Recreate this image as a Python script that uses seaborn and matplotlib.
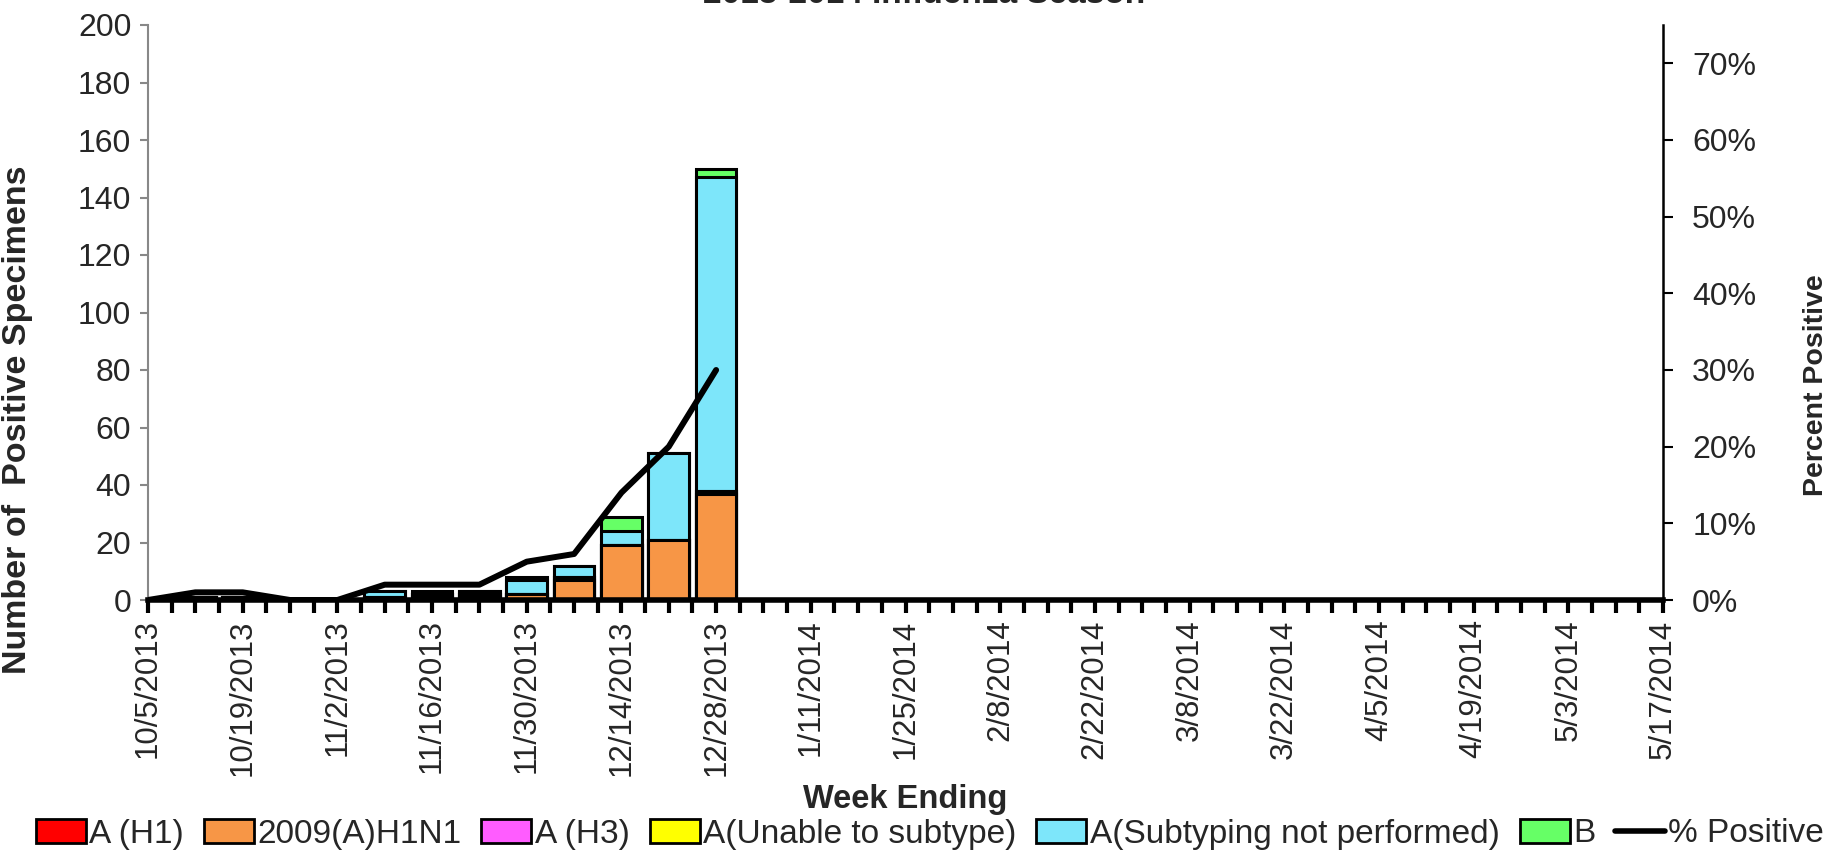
import matplotlib
matplotlib.use("Agg")
import matplotlib.pyplot as plt
import seaborn as sns
import numpy as np
import pandas as pd
from matplotlib.patches import Patch
from matplotlib.lines import Line2D
from matplotlib.ticker import PercentFormatter, MultipleLocator

# ---- data ----
weeks = pd.date_range("2013-10-05", "2014-05-17", freq="7D")
week_labels = [f"{d.month}/{d.day}/{d.year}" for d in weeks]
n = len(weeks)

def pad(vals):
    return list(vals) + [0] * (n - len(vals))

a_h1      = pad([0, 0, 0, 0, 0, 0, 0, 0, 0, 0, 0, 0, 0])
h1n1_2009 = pad([0, 1, 1, 0, 0, 0, 1, 1, 2, 7, 19, 21, 37])
a_h3      = pad([0, 0, 0, 0, 0, 1, 1, 1, 0, 1, 0, 0, 1])
a_unable  = pad([0, 0, 0, 0, 0, 0, 0, 0, 0, 0, 0, 0, 0])
a_notsub  = pad([0, 0, 0, 0, 0, 2, 0, 1, 5, 4, 5, 30, 109])
b_vals    = pad([0, 0, 0, 0, 0, 0, 1, 0, 1, 0, 5, 0, 3])
pct_pos   = [0.0, 0.01, 0.01, 0.0, 0.0, 0.02, 0.02, 0.02, 0.05, 0.06, 0.14, 0.20, 0.30] + [np.nan] * (n - 13)

series_names = ["A (H1)", "2009(A)H1N1", "A (H3)", "A(Unable to subtype)",
                "A(Subtyping not performed)", "B"]
series_vals = [a_h1, h1n1_2009, a_h3, a_unable, a_notsub, b_vals]
colors = ["#FF0000", "#F79646", "#FF5CFF", "#FFFF00", "#7DE6FA", "#66FF66"]

# ---- style ----
sns.set_theme(style="white")
plt.rcParams["font.family"] = ["Liberation Sans", "DejaVu Sans"]

W, H = 1839, 851
fig = plt.figure(figsize=(W / 100, H / 100), dpi=100)
ax = fig.add_axes([148/W, 1 - 600/H, (1663-148)/W, (600-25)/H])

cum = np.zeros(n)
cums = []
for v in series_vals:
    cum = cum + np.array(v, dtype=float)
    cums.append(cum.copy())

# overlay cumulative bars: draw from top layer down
for name, c, col in reversed(list(zip(series_names, cums, colors))):
    d = pd.DataFrame({"week": week_labels, "val": c})
    sns.barplot(data=d, x="week", y="val", order=week_labels, color=col,
                saturation=1, width=0.86, edgecolor="black", linewidth=2.2, ax=ax)

ax.set_xlim(0, n - 1)
ax.set_ylim(0, 200)
ax.yaxis.set_major_locator(MultipleLocator(20))
ax.set_xticks(range(n))
ax.set_xticklabels([lab if i % 2 == 0 else "" for i, lab in enumerate(week_labels)],
                   rotation=90, fontsize=22.5)
ax.set_xticks(np.arange(0.5, n - 1, 1.0), minor=True)
ax.tick_params(axis="x", which="both", direction="out", length=9, width=3,
               color="black", bottom=True, pad=5)
ax.tick_params(axis="y", direction="out", length=6, width=1.5, color="#888888",
               left=True, labelsize=23, pad=6)
for s in ["top", "right"]:
    ax.spines[s].set_visible(False)
ax.spines["left"].set_color("#888888")
ax.spines["left"].set_linewidth(1.5)
ax.spines["bottom"].set_color("black")
ax.spines["bottom"].set_linewidth(4)
ax.set_xlabel("Week Ending", fontsize=23.5, fontweight="bold", labelpad=6)
ax.set_ylabel("Number of  Positive Specimens", fontsize=24.5, fontweight="bold")
ax.yaxis.set_label_coords(33/W, 1 - 420/H, transform=fig.transFigure)

# ---- percent positive line ----
ax2 = ax.twinx()
ldf = pd.DataFrame({"x": np.arange(n), "pct": pct_pos})
sns.lineplot(data=ldf, x="x", y="pct", color="black", linewidth=4.3, ax=ax2)
ax2.set_ylim(0, 0.75)
ax2.set_xlim(0, n - 1)
ax2.yaxis.set_major_locator(MultipleLocator(0.1))
ax2.yaxis.set_major_formatter(PercentFormatter(1.0, decimals=0))
ax2.tick_params(axis="y", direction="out", length=7, width=1.5, color="black",
                right=True, labelsize=23, pad=14)
for s in ["top", "left", "bottom"]:
    ax2.spines[s].set_visible(False)
ax2.spines["right"].set_color("black")
ax2.spines["right"].set_linewidth(1.8)
ax2.set_xlabel("")
ax2.set_ylabel("Percent Positive", fontsize=20.5, fontweight="bold")
ax2.yaxis.set_label_coords(1803/W, 1 - 385/H, transform=fig.transFigure)

# ---- title (partly cut off at the top) ----
fig.text(924/W, 1 - 10/H, "2013-2014 Influenza Season", ha="center", va="bottom",
         fontsize=24, fontweight="bold")

# ---- legend ----
handles = [Patch(facecolor=c, edgecolor="black", linewidth=2) for c in colors]
handles.append(Line2D([0], [0], color="black", linewidth=4))
labels = series_names + ["% Positive"]
fig.legend(handles, labels, loc="center", bbox_to_anchor=(930/W, 1 - 834/H), ncol=7,
           frameon=False, fontsize=24, handlelength=1.5, handleheight=0.7,
           handletextpad=0.1, columnspacing=0.6, borderpad=0, borderaxespad=0)

fig.savefig("out.png", dpi=100)
